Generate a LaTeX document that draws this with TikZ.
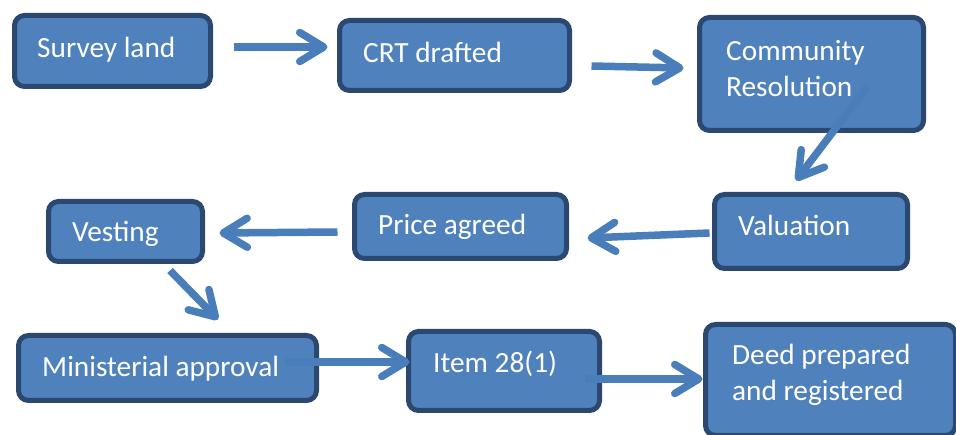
\documentclass[tikz,border=0pt]{standalone}
\usepackage{fontspec}
\setmainfont{Carlito}
\usetikzlibrary{arrows.meta}
\definecolor{boxfill}{HTML}{4F81BD}
\definecolor{boxline}{HTML}{2A4870}
\definecolor{flowcol}{HTML}{4A7EBB}
\tikzset{
  stepbox/.style={draw=boxline, fill=boxfill, line width=5pt,
    rounded corners=10pt, inner sep=0pt},
  steptext/.style={anchor=base west, inner sep=0pt, text=white,
    font=\fontsize{29.3}{36}\selectfont},
  flow/.style={draw=flowcol, line width=7.5pt,
    -{Straight Barb[length=24pt,width=29pt,round]}},
}
\begin{document}
\begin{tikzpicture}[x=1pt,y=-1pt]
\useasboundingbox (0,0) rectangle (956,435);
\clip (0,0) rectangle (956,435);

% process boxes
\node[stepbox, minimum width=196pt, minimum height=71pt]  (survey) at (112.5,51)  {};
\node[stepbox, minimum width=230pt, minimum height=70pt]  (crt)    at (454.5,55.5) {};
\node[stepbox, minimum width=224pt, minimum height=113pt] (comm)   at (811.5,74)  {};
\node[stepbox, minimum width=193pt, minimum height=74pt]  (val)    at (811,231.5) {};
\node[stepbox, minimum width=212pt, minimum height=64pt]  (price)  at (460.5,226.5) {};
\node[stepbox, minimum width=154pt, minimum height=60pt]  (vest)   at (125.5,231.5) {};
\node[stepbox, minimum width=298pt, minimum height=65pt]  (minis)  at (167.5,368) {};
\node[stepbox, minimum width=191pt, minimum height=79pt]  (item)   at (504,371)   {};
\node[stepbox, minimum width=250pt, minimum height=111pt] (deed)   at (830.5,380) {};

% box labels
\node[steptext] (survey-t) at (37,58)   {Survey land};
\node[steptext] (crt-t)    at (363,63)  {CRT drafted};
\node[steptext] (comm-t1)  at (726,61)  {Community};
\node[steptext] (comm-t2)  at (726,97)  {Resolution};
\node[steptext] (val-t)    at (738,236) {Valuation};
\node[steptext] (price-t)  at (378,235) {Price agreed};
\node[steptext] (vest-t)   at (72,242)  {Vesting};
\node[steptext] (minis-t)  at (42,377)  {Ministerial approval};
\node[steptext] (item-t)   at (433,373) {Item 28(1)};
\node[steptext] (deed-t1)  at (732,365) {Deed prepared};
\node[steptext] (deed-t2)  at (732,401) {and registered};

% flow arrows
\draw[flow] ([shift={(20.5,-4)}]survey.east) -- ([shift={(-9.5,-8.5)}]crt.west);
\draw[flow] ([shift={(19.5,10.5)}]crt.east) -- ([shift={(-13.5,-6)}]comm.west);
\draw[flow] ([shift={(55.5,13)}]comm.center) -- ([shift={(-15,-11.5)}]val.north);
\draw[flow] ([shift={(-2.5,1.5)}]val.west) -- ([shift={(18.5,11.5)}]price.east);
\draw[flow] ([shift={(-14.5,5.5)}]price.west) -- ([shift={(14.5,1.5)}]vest.east);
\draw[flow] ([shift={(44.5,6.5)}]vest.south) -- ([shift={(50.5,-13.5)}]minis.north);
\draw[flow] ([shift={(-34.5,-6)}]minis.east) -- ([shift={(3.5,-9)}]item.west);
\draw[flow] ([shift={(-17.5,8)}]item.east) -- ([shift={(-0.5,-1)}]deed.west);
\end{tikzpicture}
\end{document}
